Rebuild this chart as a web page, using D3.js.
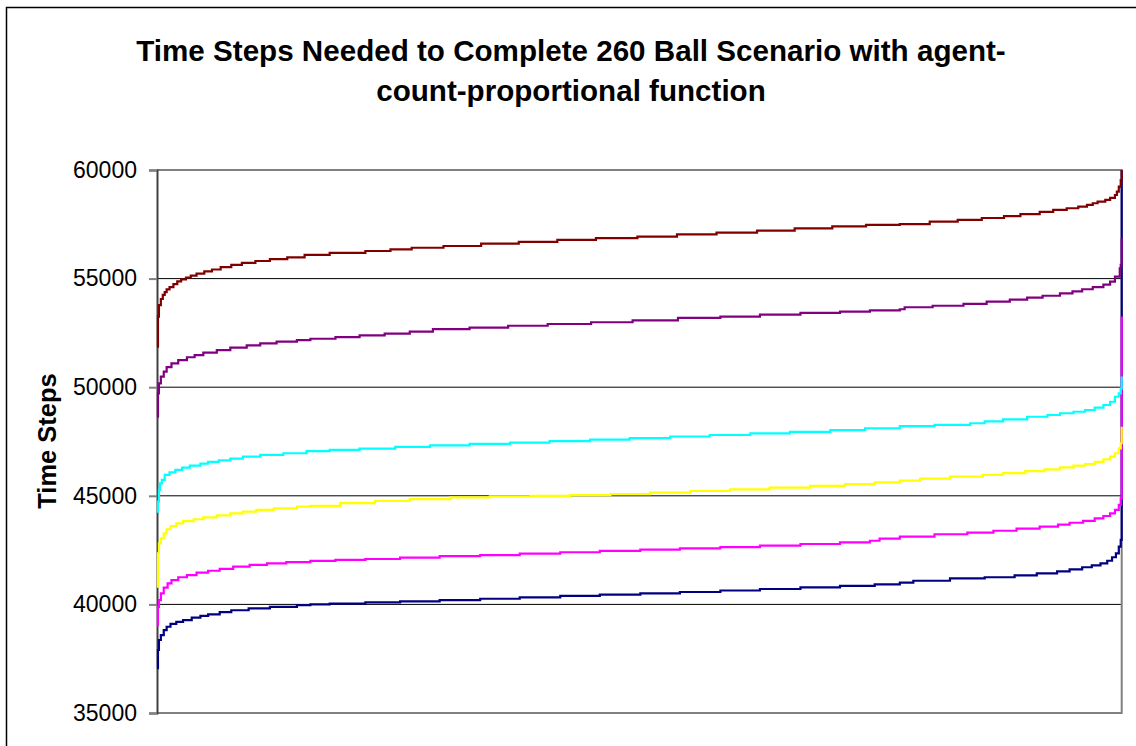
<!DOCTYPE html>
<html>
<head>
<meta charset="utf-8">
<script src="https://cdn.jsdelivr.net/npm/d3@7"></script>
<style>
  body { margin: 0; background: #fff; }
  svg { display: block; font-family: Arial, "Liberation Sans", sans-serif; }
</style>
</head>
<body>
<div id="vis"></div>
<script>
// Frame constants
const FRAME_WIDTH = 1136;
const FRAME_HEIGHT = 746;
const PLOT = {left: 157, right: 1121.7, top: 170, bottom: 713};

// Chart text
const TITLE_LINES = ["Time Steps Needed to Complete 260 Ball Scenario with agent-",
                     "count-proportional function"];
const Y_TITLE = "Time Steps";
const Y_TICKS = [35000, 40000, 45000, 50000, 55000, 60000];
const RUN_COUNT = 1000;

// Each series: sorted time steps, [run index where a new value starts, time steps]
const SERIES_1 = [[0,37060],[1,37900],[2,38360],[4,38590],[7,38820],[10,38970],[14,39100],[20,39200],
  [27,39280],[36,39390],[45,39470],[53,39540],[65,39640],[77,39730],[95,39820],[117,39890],[145,39970],
  [159,40000],[179,40040],[216,40090],[252,40140],[293,40200],[335,40260],[376,40320],[418,40390],
  [459,40450],[501,40510],[542,40570],[584,40640],[625,40710],[667,40780],[708,40850],[744,40920],
  [770,41000],[784,41090],[822,41200],[858,41250],[889,41340],[912,41430],[933,41520],[946,41610],
  [959,41710],[969,41800],[978,41890],[985,42010],[990,42170],[994,42350],[997,42660],[999,42970],[1000,60000]];

const SERIES_2 = [[0,39050],[1,39890],[2,40200],[4,40510],[7,40770],[11,40970],[15,41120],[22,41250],
  [31,41350],[41,41460],[53,41550],[65,41640],[79,41740],[96,41820],[114,41890],[134,41950],[159,42000],
  [185,42050],[216,42090],[252,42150],[293,42220],[335,42270],[376,42340],[418,42400],[459,42460],
  [501,42520],[542,42580],[584,42640],[625,42710],[667,42780],[708,42860],[739,42930],[749,43030],
  [770,43120],[806,43230],[840,43300],[867,43390],[891,43490],[915,43580],[934,43670],[946,43760],
  [960,43850],[972,43960],[981,44070],[988,44190],[993,44350],[997,44580],[999,44880],[1000,53250]];

const SERIES_3 = [[0,40820],[1,42350],[2,42810],[4,43040],[7,43270],[10,43460],[14,43610],[20,43730],
  [27,43830],[38,43920],[48,44010],[62,44100],[76,44190],[89,44270],[103,44350],[121,44420],[145,44500],
  [159,44540],[190,44660],[226,44760],[262,44850],[304,44930],[345,44980],[387,45000],[428,45030],
  [470,45080],[511,45150],[553,45220],[594,45300],[635,45380],[677,45460],[713,45540],[744,45620],
  [770,45700],[791,45790],[822,45880],[856,45960],[877,46040],[900,46140],[920,46220],[936,46310],
  [950,46390],[962,46460],[972,46560],[981,46680],[988,46800],[993,46960],[997,47180],[999,47420],[1000,48180]];

const SERIES_4 = [[0,44270],[1,44730],[2,45270],[3,45570],[5,45730],[8,45960],[13,46080],[19,46190],
  [26,46300],[34,46390],[45,46480],[53,46560],[64,46630],[76,46710],[89,46800],[107,46880],[131,46960],
  [155,47060],[179,47110],[210,47170],[247,47250],[283,47320],[324,47390],[366,47450],[407,47520],
  [449,47590],[490,47660],[532,47730],[573,47800],[615,47870],[656,47940],[698,48020],[734,48110],
  [770,48210],[806,48270],[843,48340],[858,48430],[877,48520],[902,48640],[923,48720],[936,48800],
  [950,48870],[962,48950],[972,49060],[981,49180],[988,49330],[993,49560],[997,49720],[999,49950],[1000,50490]];

const SERIES_5 = [[0,48640],[1,49720],[2,50180],[4,50490],[7,50720],[10,50920],[15,51100],[22,51250],
  [31,51380],[39,51480],[48,51590],[62,51710],[76,51820],[93,51930],[107,52020],[124,52100],[145,52170],
  [159,52230],[185,52310],[210,52390],[236,52470],[262,52560],[286,52670],[324,52740],[364,52830],
  [405,52910],[450,52990],[493,53080],[540,53190],[584,53250],[625,53340],[667,53420],[708,53480],
  [739,53540],[770,53590],[775,53680],[804,53750],[836,53840],[860,53940],[884,54030],[902,54120],
  [918,54210],[936,54320],[949,54410],[959,54510],[970,54610],[981,54720],[988,54860],[993,55090],
  [998,55470],[999,55630],[1000,56860]];

const SERIES_6 = [[0,51870],[1,53250],[2,53780],[4,54060],[6,54250],[8,54380],[10,54500],[13,54610],
  [17,54750],[21,54870],[25,54960],[30,55050],[35,55140],[41,55230],[49,55330],[57,55420],[66,55530],
  [77,55630],[88,55720],[102,55810],[117,55900],[135,55980],[153,56090],[179,56180],[216,56270],
  [242,56350],[264,56420],[297,56500],[336,56610],[375,56690],[415,56780],[455,56860],[498,56930],
  [539,57040],[580,57120],[622,57210],[661,57310],[700,57400],[735,57470],[770,57510],[801,57620],
  [830,57700],[855,57790],[878,57880],[895,57970],[915,58070],[929,58160],[943,58240],[955,58310],
  [964,58390],[970,58470],[975,58540],[983,58620],[988,58720],[993,58850],[995,59000],[997,59230],
  [999,59540],[1000,60000]];

// Excel default line colours, drawn in series order
const SERIES = [SERIES_1, SERIES_2, SERIES_3, SERIES_4, SERIES_5, SERIES_6];
const COLORS = ["#000080", "#ff00ff", "#ffff00", "#00ffff", "#800080", "#800000"];

// Scales
const X_SCALE = d3.scaleLinear().domain([0, RUN_COUNT]).range([PLOT.left, PLOT.right]);
const Y_SCALE = d3.scaleLinear().domain([35000, 60000]).range([PLOT.bottom, PLOT.top]);

const svg = d3.select("#vis").append("svg")
    .attr("width", FRAME_WIDTH)
    .attr("height", FRAME_HEIGHT);

svg.append("rect").attr("width", FRAME_WIDTH).attr("height", FRAME_HEIGHT).attr("fill", "#fff");

// outer chart border (runs off the right and bottom of the picture)
svg.append("rect")
    .attr("x", 6.5).attr("y", 7.5)
    .attr("width", 1200).attr("height", 800)
    .attr("fill", "none").attr("stroke", "#000").attr("stroke-width", 1.5);

// title
svg.append("text")
    .attr("text-anchor", "middle")
    .attr("font-size", "29.6px")
    .attr("font-weight", "bold")
    .selectAll("tspan")
    .data(TITLE_LINES)
    .enter()
    .append("tspan")
    .attr("x", 571)
    .attr("y", (d, i) => 61 + i * 40)
    .text((d) => d);

// gridlines
svg.append("g")
    .selectAll("line")
    .data(Y_TICKS.filter((d) => d > 35000 && d < 60000))
    .enter()
    .append("line")
    .attr("x1", PLOT.left).attr("x2", PLOT.right)
    .attr("y1", (d) => Y_SCALE(d)).attr("y2", (d) => Y_SCALE(d))
    .attr("stroke", "#000").attr("stroke-width", 1);

// plot area frame (top, right, bottom)
svg.append("path")
    .attr("d", "M" + PLOT.left + "," + PLOT.top + "H" + PLOT.right + "V" + PLOT.bottom + "H" + PLOT.left)
    .attr("fill", "none").attr("stroke", "#808080").attr("stroke-width", 2);

// y axis
const yAxis = svg.append("g")
    .attr("transform", "translate(" + PLOT.left + ",0)")
    .call(d3.axisLeft(Y_SCALE).tickValues(Y_TICKS).tickSize(8).tickPadding(12).tickFormat(d3.format("d")));
yAxis.select(".domain").attr("stroke", "#404040").attr("stroke-width", 2);
yAxis.selectAll(".tick line").attr("stroke", "#808080").attr("stroke-width", 2);
yAxis.selectAll(".tick text")
    .attr("font-size", "23px")
    .attr("font-family", "Arial, 'Liberation Sans', sans-serif")
    .attr("fill", "#000");

// y axis title
svg.append("text")
    .attr("transform", "translate(55.5,441) rotate(-90)")
    .attr("text-anchor", "middle")
    .attr("font-size", "25.5px")
    .attr("font-weight", "bold")
    .text(Y_TITLE);

// series lines
const line = d3.line()
    .x((d) => X_SCALE(d[0]))
    .y((d) => Y_SCALE(d[1]))
    .curve(d3.curveStepAfter);

svg.append("g")
    .selectAll("path")
    .data(SERIES)
    .enter()
    .append("path")
    .attr("d", (d) => line(d))
    .attr("fill", "none")
    .attr("stroke", (d, i) => COLORS[i])
    .attr("stroke-width", 2.2);
</script>
</body>
</html>
